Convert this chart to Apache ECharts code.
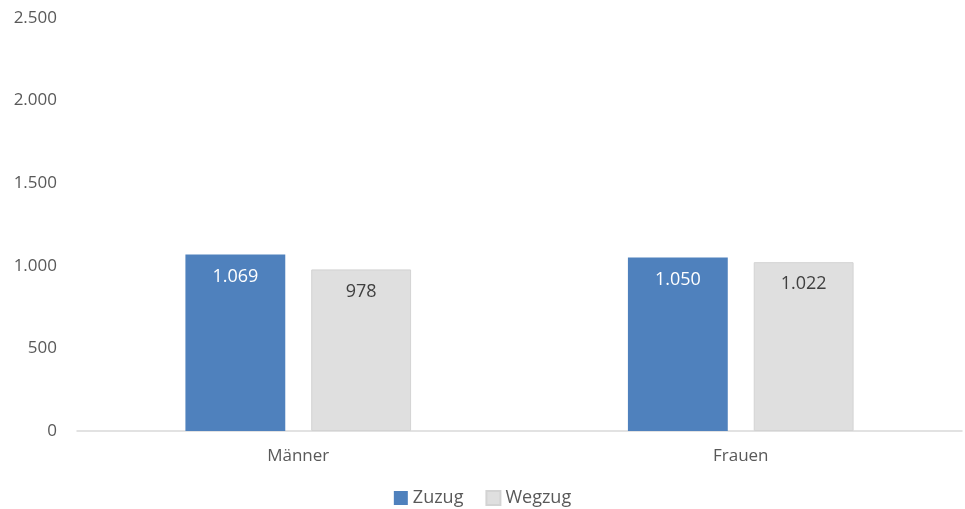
<!DOCTYPE html>
<html>
<head>
<meta charset="utf-8">
<script src="https://cdn.jsdelivr.net/npm/echarts@6/dist/echarts.min.js"></script>
<style>
html,body{margin:0;padding:0;background:#fff;}
#main{width:965px;height:509px;}
</style>
</head>
<body>
<div id="main"></div>
<script>
var categories = ['Männer', 'Frauen'];
var zuzug = [1069, 1050];
var wegzug = [978, 1022];
var yTicks = [0, 500, 1000, 1500, 2000, 2500];

// Zahlen mit Tausenderpunkt
function fmt(v){
    return String(v).replace(/\B(?=(\d{3})+(?!\d))/g, '.');
}

var fontName = '"Open Sans", sans-serif';
var myChart = echarts.init(document.getElementById('main'));

var option = {
    backgroundColor: '#fff',
    textStyle: {fontFamily: fontName},
    grid: {left: 77, right: 3, top: 18, bottom: 78},
    legend: {
        bottom: -3,
        left: 'center',
        itemWidth: 14,
        itemHeight: 14,
        itemGap: 22,
        itemTextGap: 4,
        icon: 'rect',
        textStyle: {fontSize: 18, color: '#595959', fontFamily: fontName},
        data: ['Zuzug', 'Wegzug']
    },
    xAxis: {
        type: 'category',
        data: categories,
        axisLine: {lineStyle: {color: '#d9d9d9', width: 1.5}},
        axisTick: {show: false},
        axisLabel: {fontSize: 17, color: '#595959', margin: 17, fontFamily: fontName}
    },
    yAxis: {
        type: 'value',
        min: yTicks[0],
        max: yTicks[yTicks.length - 1],
        interval: 500,
        splitLine: {show: false},
        axisLine: {show: false},
        axisTick: {show: false},
        axisLabel: {fontSize: 17, color: '#595959', margin: 20, fontFamily: fontName, formatter: fmt}
    },
    series: [
        {
            name: 'Zuzug',
            type: 'bar',
            data: zuzug,
            barGap: '26%',
            barCategoryGap: '49%',
            itemStyle: {color: '#4f81bd'},
            label: {show: true, position: 'insideTop', distance: 13, fontSize: 18, color: '#ffffff', fontFamily: fontName, formatter: function(p){return fmt(p.value);}}
        },
        {
            name: 'Wegzug',
            type: 'bar',
            data: wegzug,
            itemStyle: {color: '#dfdfdf', borderColor: '#d3d3d3', borderWidth: 1},
            label: {show: true, position: 'insideTop', distance: 13, fontSize: 18, color: '#404040', fontFamily: fontName, formatter: function(p){return fmt(p.value);}}
        }
    ]
};

myChart.setOption(option);
</script>
</body>
</html>
